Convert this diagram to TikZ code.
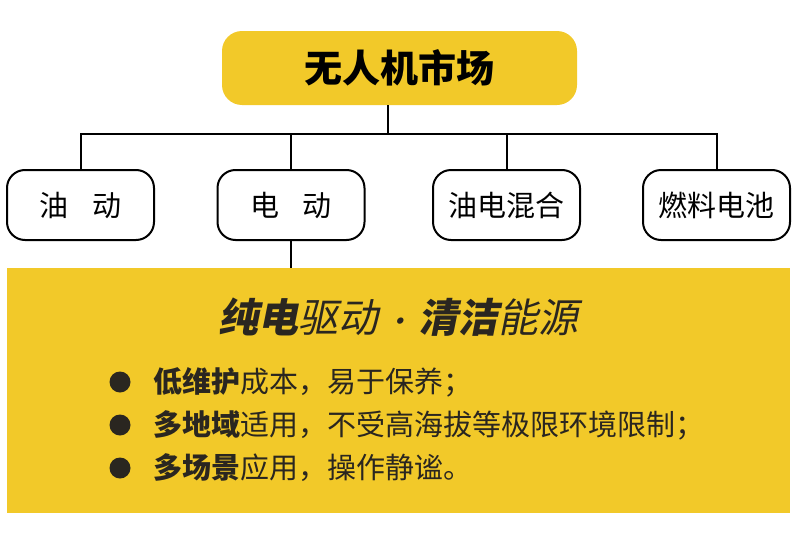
\documentclass[tikz,border=0pt]{standalone}
\usepackage{fontspec}
\setmainfont{Noto Sans CJK SC}
\newfontfamily\headfont[FakeSlant=0.2]{Noto Sans CJK SC}
\usepackage{tikz}
\definecolor{droneyellow}{HTML}{F2C929}
\definecolor{inkdark}{HTML}{2A2620}
\tikzset{
  topbox/.style={fill=droneyellow, rounded corners=20pt, minimum width=355pt, minimum height=74pt, font=\fontsize{38}{42}\selectfont\bfseries},
  kindbox/.style={draw, line width=2pt, fill=white, rounded corners=18pt, minimum width=147pt, minimum height=70pt, font=\fontsize{29}{34}\selectfont},
  bus/.style={line width=2pt},
  bulletdot/.style={circle, fill=inkdark, inner sep=0pt, minimum size=21pt},
  pointtext/.style={anchor=west, inner sep=0pt, text=inkdark, font=\fontsize{29}{34}\selectfont}
}

\begin{document}
\begin{tikzpicture}[x=1pt, y=-1pt]
			%%%%% START %%%%%
			\useasboundingbox (0, 0) rectangle (800, 546);
			
			\node[topbox] (market) at (399.5, 68) {\raisebox{-4pt}{无人机市场}};
			
			\node[kindbox] (oil) at (80.5, 205) {油\hspace{0.8em}动};
			\node[kindbox] (elec) at (291, 205) {电\hspace{0.8em}动};
			\node[kindbox] (hybrid) at (506.5, 205) {油电混合};
			\node[kindbox] (fuel) at (716.5, 205) {燃料电池};
			
			\coordinate (hub) at (388, 134);
			\draw[bus] (hub |- market.south) -- (hub);
			\draw[bus] (oil.north) |- (hub) -| (fuel.north);
			\draw[bus] (elec.north) -- (elec.north |- hub);
			\draw[bus] (hybrid.north) -- (hybrid.north |- hub);
			
			\node[fill=droneyellow, minimum width=783pt, minimum height=245pt, inner sep=0pt] (panel) at (398.5, 390.5) {};
			\draw[bus] (elec.south) -- (elec.south |- panel.north);
			
			\node[text=inkdark, font=\headfont\fontsize{40}{46}\selectfont] (slogan) at (398, 317)
				{\textbf{纯电}驱动\hspace{5pt}{\fontsize{30}{46}\selectfont ·}\hspace{5pt}\textbf{清洁}能源};
			
			\node[bulletdot] (dot1) at (120, 382) {};
			\node[bulletdot] (dot2) at (120, 425) {};
			\node[bulletdot] (dot3) at (120, 468) {};
			
			\node[pointtext] (point1) at (153, 382) {\textbf{低维护}成本，易于保养；};
			\node[pointtext] (point2) at (153, 425) {\textbf{多地域}适用，不受高海拔等极限环境限制；};
			\node[pointtext] (point3) at (153, 468) {\textbf{多场景}应用，操作静谧。};
			
			%%%%% END %%%%%
		\end{tikzpicture}
\end{document}
